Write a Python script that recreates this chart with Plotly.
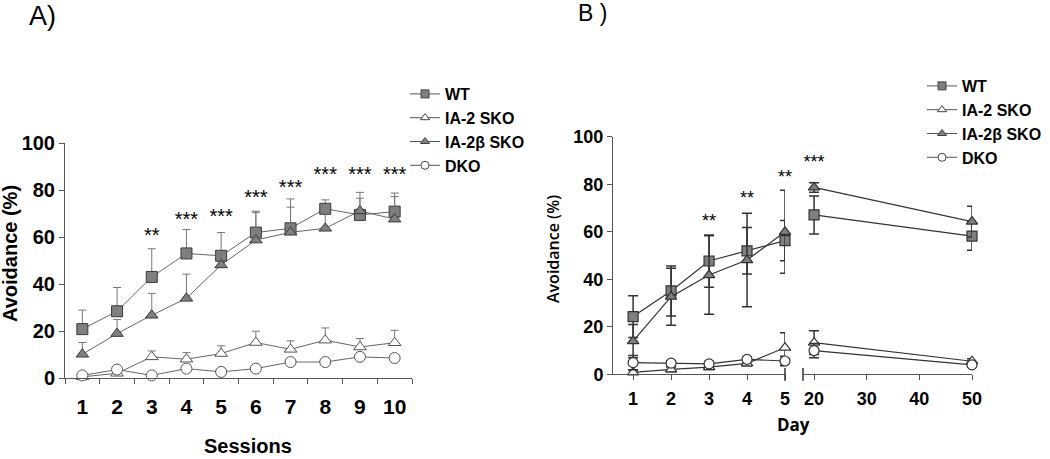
import plotly.graph_objects as go

# ---------------- data ----------------
sessions = [1, 2, 3, 4, 5, 6, 7, 8, 9, 10]
a_wt = [20.8, 28.4, 43.0, 53.0, 52.0, 61.9, 63.7, 72.0, 69.4, 70.8]
a_wt_err = [8.1, 10.1, 12.0, 10.2, 9.9, 9.1, 12.5, 3.8, 7.1, 7.9]
a_ia2 = [0.5, 2.0, 9.0, 8.0, 10.4, 15.1, 12.2, 16.1, 13.2, 15.0]
a_ia2_err = [1.0, 1.5, 2.5, 2.8, 3.3, 4.8, 3.6, 5.2, 3.6, 5.3]
a_ia2b = [10.1, 18.9, 26.7, 33.9, 48.1, 58.7, 62.0, 63.7, 71.1, 67.6]
a_ia2b_err = [5.0, 6.0, 9.3, 10.3, 5.0, 11.7, 10.7, 7.0, 7.9, 9.6]
a_dko = [1.1, 3.6, 1.1, 4.0, 2.6, 4.0, 6.8, 6.8, 9.0, 8.5]
a_dko_err = [0.8, 1.0, 0.8, 1.0, 1.0, 1.0, 1.2, 1.2, 1.0, 1.5]
a_star_x = [3, 4, 5, 6, 7, 8, 9, 10]
a_star_y = [60, 67, 68, 76, 80.5, 86, 86, 86]
a_star_txt = ["**", "***", "***", "***", "***", "***", "***", "***"]

days_early = [1, 2, 3, 4, 5]
days_late = [20, 50]
b_wt_early = [24.3, 35.1, 47.7, 52.0, 56.3]
b_wt_early_err = [8.8, 10.5, 11.0, 9.8, 8.5]
b_wt_late = [67.1, 58.2]
b_wt_late_err = [8.0, 6.0]
b_ia2b_early = [14.0, 32.7, 41.8, 48.1, 60.0]
b_ia2b_early_err = [7.0, 12.0, 16.5, 19.7, 17.5]
b_ia2b_late = [78.7, 64.3]
b_ia2b_late_err = [2.0, 6.5]
b_ia2_early = [0.8, 2.1, 3.0, 4.6, 11.2]
b_ia2_early_err = [1.0, 1.0, 1.0, 1.0, 6.3]
b_ia2_late = [13.3, 5.5]
b_ia2_late_err = [5.0, 1.0]
b_dko_early = [4.9, 4.7, 4.4, 6.3, 5.6]
b_dko_early_err = [3.0, 1.0, 1.0, 1.0, 2.0]
b_dko_late = [10.0, 4.0]
b_dko_late_err = [3.0, 1.0]
b_star_x_early = [3, 4, 5]
b_star_y_early = [64, 73.4, 82.5]
b_star_txt_early = ["**", "**", "**"]
b_star_x_late = [20]
b_star_y_late = [88.8]
b_star_txt_late = ["***"]

series_names = ["WT", "IA-2 SKO", "IA-2β SKO", "DKO"]
y_ticks = [0, 20, 40, 60, 80, 100]

# ---------------- styles ----------------
GREY = "#7f7f7f"
DARK = "#3a3a3a"
styles = {
    "WT": dict(symbol="square", color=GREY, line=dict(color=DARK, width=1)),
    "IA-2 SKO": dict(symbol="triangle-up", color="white", line=dict(color="#555555", width=1)),
    "IA-2β SKO": dict(symbol="triangle-up", color=GREY, line=dict(color=DARK, width=1)),
    "DKO": dict(symbol="circle", color="white", line=dict(color="#555555", width=1)),
}
FONT = "Liberation Sans"

fig = go.Figure()

# ---------- Panel A ----------
a_data = [(a_wt, a_wt_err), (a_ia2, a_ia2_err), (a_ia2b, a_ia2b_err), (a_dko, a_dko_err)]
for name, (vals, errs) in zip(series_names, a_data):
    st = styles[name]
    fig.add_trace(go.Scatter(
        x=sessions, y=vals, mode="lines+markers", name=name, showlegend=False,
        xaxis="x", yaxis="y", cliponaxis=False,
        line=dict(color="#666666", width=1),
        marker=dict(symbol=st["symbol"], size=11, color=st["color"], line=st["line"]),
        error_y=dict(type="data", array=errs, arrayminus=[0] * len(errs), symmetric=False,
                     color="#777777", thickness=1, width=4),
    ))
fig.add_trace(go.Scatter(
    x=a_star_x, y=a_star_y, text=a_star_txt, mode="text", showlegend=False,
    xaxis="x", yaxis="y", cliponaxis=False,
    textfont=dict(family=FONT, size=20, color="black"),
))

# ---------- Panel B ----------
b_early = [(b_wt_early, b_wt_early_err), (b_ia2_early, b_ia2_early_err),
           (b_ia2b_early, b_ia2b_early_err), (b_dko_early, b_dko_early_err)]
b_late = [(b_wt_late, b_wt_late_err), (b_ia2_late, b_ia2_late_err),
          (b_ia2b_late, b_ia2b_late_err), (b_dko_late, b_dko_late_err)]
for xs, xa, group in [(days_early, "x2", b_early), (days_late, "x3", b_late)]:
    for name, (vals, errs) in zip(series_names, group):
        st = styles[name]
        fig.add_trace(go.Scatter(
            x=xs, y=vals, mode="lines+markers", name=name, showlegend=False,
            xaxis=xa, yaxis="y2", cliponaxis=False,
            line=dict(color="#333333", width=1.2),
            marker=dict(symbol=st["symbol"], size=10, color=st["color"],
                        line=dict(color="#333333", width=1.2)),
            error_y=dict(type="data", array=errs, symmetric=True,
                         color="#333333", thickness=1.5, width=5),
        ))
fig.add_trace(go.Scatter(
    x=b_star_x_early, y=b_star_y_early, text=b_star_txt_early, mode="text", showlegend=False,
    xaxis="x2", yaxis="y2", cliponaxis=False,
    textfont=dict(family=FONT, size=18, color="black"),
))
fig.add_trace(go.Scatter(
    x=b_star_x_late, y=b_star_y_late, text=b_star_txt_late, mode="text", showlegend=False,
    xaxis="x3", yaxis="y2", cliponaxis=False,
    textfont=dict(family=FONT, size=18, color="black"),
))

# ---------- legend entries ----------
for leg, xa, ya in [("legend", "x", "y"), ("legend2", "x2", "y2")]:
    for name in series_names:
        st = styles[name]
        fig.add_trace(go.Scatter(
            x=[None], y=[None], mode="lines+markers", name=name, legend=leg,
            xaxis=xa, yaxis=ya,
            line=dict(color="#555555", width=1),
            marker=dict(symbol=st["symbol"], size=8, color=st["color"],
                        line=dict(color="#444444", width=1)),
        ))

W, H = 1050, 459
def px_x(p):
    return p / W
def px_y(p):
    return (H - p) / H

axis_common = dict(showline=True, linecolor="#555555", linewidth=1, showgrid=False,
                   zeroline=False, ticks="outside", ticklen=5, tickcolor="#555555",
                   tickwidth=1, automargin=False)

fig.update_layout(
    width=W, height=H, margin=dict(l=0, r=0, t=0, b=0, pad=0, autoexpand=False),
    paper_bgcolor="white", plot_bgcolor="white",
    font=dict(family=FONT, color="black"),
    xaxis=dict(domain=[px_x(65), px_x(412)], range=[0.5, 10.5], anchor="y",
               tickvals=sessions, ticktext=[str(s) for s in sessions],
               showline=True, linecolor="#555555", showgrid=False, zeroline=False,
               ticks="", ticklabelstandoff=10, automargin=False,
               tickfont=dict(family=FONT, size=21, weight="bold", color="black"),
               minor=dict(tickvals=[s - 0.5 for s in sessions] + [10.5],
                          ticks="outside", ticklen=5, tickcolor="#555555", showgrid=False)),
    yaxis=dict(domain=[(H - 378) / H, (H - 143) / H], range=[0, 100], anchor="x",
               tickvals=y_ticks, **axis_common,
               tickfont=dict(family=FONT, size=20, weight="bold", color="black")),
    xaxis2=dict(domain=[px_x(613), px_x(785)], range=[0.47, 5], anchor="y2",
                tickvals=days_early, ticklabelstandoff=3, **axis_common,
                tickfont=dict(family=FONT, size=18, weight="bold", color="black")),
    xaxis3=dict(domain=[px_x(803), px_x(972)], range=[17.9, 50], anchor="y2",
                tickvals=[20, 30, 40, 50], ticklabelstandoff=3, **axis_common,
                tickfont=dict(family=FONT, size=18, weight="bold", color="black")),
    yaxis2=dict(domain=[(H - 374.3) / H, (H - 136.8) / H], range=[0, 100], anchor="x2",
                tickvals=y_ticks, **axis_common,
                tickfont=dict(family=FONT, size=18, weight="bold", color="black")),
    legend=dict(x=px_x(405), y=px_y(77), xanchor="left", yanchor="top",
                bgcolor="rgba(0,0,0,0)", borderwidth=0,
                font=dict(family=FONT, size=16, weight="bold", color="black")),
    legend2=dict(x=px_x(922), y=px_y(69), xanchor="left", yanchor="top",
                 bgcolor="rgba(0,0,0,0)", borderwidth=0,
                 font=dict(family=FONT, size=16, weight="bold", color="black")),
    annotations=[
        dict(text="A)", x=px_x(27), y=px_y(16), xref="paper", yref="paper",
             xanchor="left", yanchor="middle", showarrow=False,
             font=dict(family=FONT, size=27, color="black")),
        dict(text="B )", x=px_x(576), y=px_y(13), xref="paper", yref="paper",
             xanchor="left", yanchor="middle", showarrow=False,
             font=dict(family=FONT, size=23, color="black")),
        dict(text="Avoidance (%)", x=px_x(10), y=px_y(254), xref="paper", yref="paper",
             textangle=-90, showarrow=False, xanchor="center", yanchor="middle",
             font=dict(family=FONT, size=20, weight="bold", color="black")),
        dict(text="Sessions", x=px_x(248), y=px_y(446), xref="paper", yref="paper",
             showarrow=False, xanchor="center", yanchor="middle",
             font=dict(family=FONT, size=20, weight="bold", color="black")),
        dict(text="Avoidance (%)", x=px_x(553), y=px_y(249), xref="paper", yref="paper",
             textangle=-90, showarrow=False, xanchor="center", yanchor="middle",
             font=dict(family="Open Sans", size=16, weight=600, color="black")),
        dict(text="Day", x=px_x(793), y=px_y(424), xref="paper", yref="paper",
             showarrow=False, xanchor="center", yanchor="middle",
             font=dict(family="Open Sans", size=17, weight="bold", color="black")),
    ],
    shapes=[
        dict(type="line", xref="x2 domain", yref="y2 domain", x0=1, x1=1, y0=-0.027, y1=0.027,
             line=dict(color="#333333", width=1.5)),
        dict(type="line", xref="x3 domain", yref="y2 domain", x0=0, x1=0, y0=-0.027, y1=0.027,
             line=dict(color="#333333", width=1.5)),
    ],
)

fig.write_html(
    "out.html",
    config={"displayModeBar": False},
    post_script="document.body.style.margin='0';document.body.style.padding='0';",
)
